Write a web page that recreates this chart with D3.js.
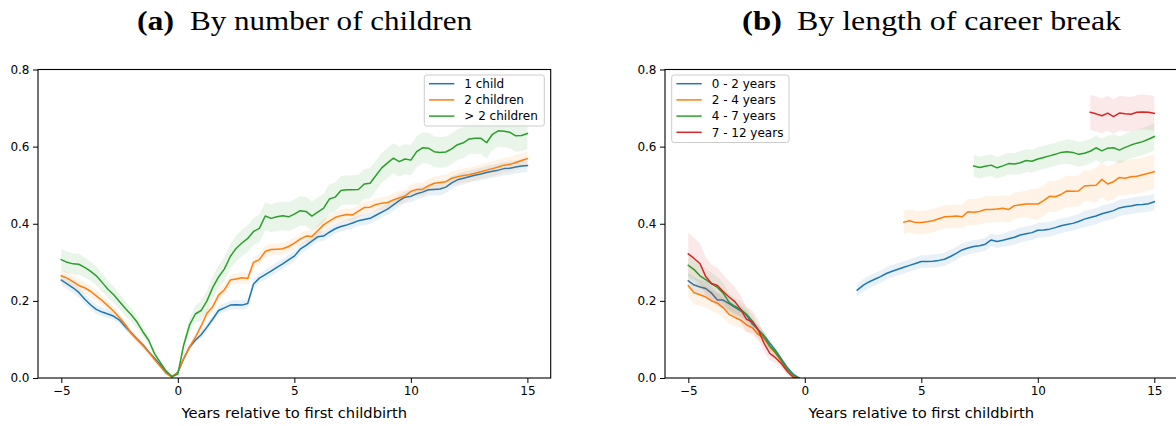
<!DOCTYPE html>
<html><head><meta charset="utf-8">
<script src="https://cdn.jsdelivr.net/npm/d3@7"></script>
<style>body{margin:0;background:#fff} svg{display:block}</style>
</head><body><svg id="c" width="1176" height="426"></svg>
<script>
// ---------- DATA ----------
const years = [-5,-4.75,-4.5,-4.25,-4,-3.75,-3.5,-3.25,-3,-2.75,-2.5,-2.25,-2,-1.75,-1.5,-1.25,-1,-0.75,-0.5,-0.25,
  0,0.25,0.5,0.75,1,1.25,1.5,1.75,2,2.25,2.5,2.75,3,3.25,3.5,3.75,4,4.25,4.5,4.75,5,
  5.25,5.5,5.75,6,6.25,6.5,6.75,7,7.25,7.5,7.75,8,8.25,8.5,8.75,9,9.25,9.5,9.75,10,
  10.25,10.5,10.75,11,11.25,11.5,11.75,12,12.25,12.5,12.75,13,13.25,13.5,13.75,14,14.25,14.5,14.75,15];
const xTicks = [-5,0,5,10,15];
const yTicks = [0,0.2,0.4,0.6,0.8];

// Panel (a): by number of children
const labelsA = ["1 child","2 children","> 2 children"];
const oneChild = [0.254,0.244,0.234,0.222,0.205,0.190,0.178,0.171,0.166,0.160,0.150,0.133,0.117,0.101,0.086,0.068,0.051,0.034,0.013,0.003,
  0.015,0.050,0.080,0.098,0.112,0.132,0.153,0.175,0.182,0.189,0.190,0.189,0.193,0.244,0.259,0.268,0.277,0.287,0.296,0.306,0.316,
  0.334,0.344,0.355,0.366,0.368,0.378,0.387,0.393,0.397,0.402,0.408,0.411,0.414,0.422,0.430,0.438,0.449,0.460,0.469,0.471,
  0.478,0.482,0.488,0.489,0.490,0.495,0.506,0.514,0.518,0.522,0.526,0.529,0.533,0.536,0.539,0.543,0.544,0.547,0.550,0.551];
const twoChildren = [0.265,0.259,0.250,0.240,0.234,0.225,0.213,0.201,0.187,0.173,0.156,0.138,0.116,0.100,0.084,0.067,0.048,0.030,0.012,0.002,
  0.015,0.050,0.080,0.105,0.135,0.168,0.185,0.215,0.229,0.254,0.257,0.260,0.258,0.300,0.307,0.328,0.333,0.334,0.335,0.341,0.350,
  0.360,0.368,0.367,0.382,0.397,0.407,0.416,0.421,0.424,0.423,0.433,0.442,0.443,0.450,0.453,0.455,0.462,0.467,0.472,0.484,
  0.489,0.489,0.498,0.505,0.507,0.509,0.518,0.522,0.525,0.527,0.531,0.535,0.539,0.543,0.547,0.552,0.554,0.559,0.564,0.569];
const moreChildren = [0.307,0.300,0.296,0.295,0.287,0.277,0.265,0.248,0.230,0.216,0.198,0.180,0.164,0.145,0.120,0.098,0.063,0.040,0.018,0.004,
  0.010,0.085,0.137,0.166,0.175,0.200,0.235,0.262,0.283,0.315,0.336,0.350,0.362,0.380,0.388,0.420,0.414,0.418,0.421,0.418,0.425,
  0.434,0.432,0.420,0.430,0.440,0.464,0.469,0.486,0.488,0.488,0.489,0.503,0.505,0.525,0.545,0.558,0.570,0.561,0.568,0.565,
  0.587,0.597,0.596,0.587,0.585,0.586,0.594,0.605,0.610,0.620,0.622,0.622,0.610,0.632,0.641,0.640,0.637,0.628,0.629,0.634];
// 95% CI half-widths
const ciOneChild = [0.014,0.014,0.013,0.013,0.013,0.012,0.012,0.011,0.011,0.010,0.010,0.009,0.008,0.008,0.007,0.006,0.005,0.004,0.003,0.002,
  0.002,0.005,0.007,0.008,0.009,0.010,0.010,0.011,0.011,0.011,0.012,0.012,0.012,0.012,0.012,0.013,0.013,0.013,0.013,0.013,0.013,
  0.013,0.013,0.013,0.013,0.013,0.013,0.013,0.013,0.014,0.014,0.014,0.014,0.014,0.014,0.014,0.014,0.015,0.015,0.015,0.015,
  0.015,0.015,0.015,0.015,0.016,0.016,0.016,0.016,0.016,0.016,0.016,0.016,0.017,0.017,0.017,0.017,0.017,0.017,0.017,0.017];
const ciTwoChildren = [0.016,0.016,0.015,0.015,0.015,0.014,0.014,0.013,0.013,0.012,0.011,0.010,0.009,0.009,0.008,0.007,0.006,0.004,0.003,0.002,
  0.002,0.006,0.008,0.010,0.011,0.012,0.012,0.013,0.013,0.013,0.014,0.014,0.014,0.014,0.014,0.015,0.015,0.015,0.015,0.015,0.015,
  0.015,0.015,0.015,0.015,0.015,0.015,0.015,0.015,0.016,0.016,0.016,0.016,0.016,0.016,0.016,0.016,0.017,0.017,0.017,0.017,
  0.017,0.017,0.017,0.017,0.018,0.018,0.018,0.018,0.018,0.018,0.018,0.018,0.019,0.019,0.019,0.019,0.019,0.019,0.019,0.019];
const ciMoreChildren = [0.028,0.028,0.027,0.027,0.026,0.025,0.024,0.023,0.022,0.021,0.020,0.019,0.017,0.015,0.013,0.011,0.009,0.007,0.005,0.003,
  0.004,0.012,0.018,0.022,0.025,0.027,0.029,0.030,0.031,0.032,0.033,0.034,0.035,0.035,0.036,0.036,0.036,0.037,0.037,0.037,0.038,
  0.038,0.038,0.038,0.038,0.038,0.038,0.038,0.038,0.038,0.038,0.039,0.039,0.039,0.039,0.039,0.039,0.039,0.039,0.039,0.039,
  0.040,0.040,0.040,0.040,0.040,0.040,0.040,0.040,0.040,0.040,0.041,0.041,0.041,0.041,0.041,0.041,0.041,0.041,0.041,0.041];

// Panel (b): by length of career break  (pre-birth: -5 .. -0.25; post: segment until 15)
const labelsB = ["0 - 2 years","2 - 4 years","4 - 7 years","7 - 12 years"];
const postStartB = [2.25, 4.25, 7.25, 12.25];
const breakShortPre = [0.252,0.241,0.236,0.232,0.220,0.202,0.202,0.193,0.183,0.174,0.163,0.140,0.125,0.110,0.090,0.071,0.049,0.027,0.010,0.000];
const breakMidPre   = [0.239,0.221,0.216,0.210,0.200,0.194,0.182,0.165,0.157,0.150,0.138,0.130,0.113,0.103,0.081,0.064,0.042,0.022,0.006,0.000];
const breakLongPre  = [0.292,0.281,0.265,0.255,0.244,0.235,0.220,0.196,0.186,0.178,0.165,0.148,0.125,0.107,0.083,0.066,0.045,0.024,0.008,0.000];
const breakVLongPre = [0.322,0.310,0.297,0.263,0.245,0.240,0.224,0.210,0.198,0.178,0.152,0.146,0.125,0.090,0.064,0.052,0.037,0.017,0.002,0.000];
const breakShortPost = [0.228,0.240,0.249,0.256,0.263,0.271,0.277,0.282,0.287,0.292,0.297,0.302,0.302,0.303,0.305,0.308,
  0.315,0.323,0.332,0.337,0.341,0.343,0.347,0.358,0.354,0.357,0.361,0.365,0.371,0.374,0.377,0.383,
  0.384,0.386,0.390,0.395,0.398,0.401,0.406,0.412,0.416,0.420,0.426,0.430,0.434,0.441,0.444,0.446,0.449,0.450,0.452,0.457];
const breakMidPost = [0.404,0.408,0.403,0.403,0.405,0.408,0.413,0.418,0.419,0.420,0.418,0.431,0.430,0.432,0.437,0.437,
  0.438,0.440,0.437,0.447,0.449,0.451,0.451,0.451,0.460,0.471,0.470,0.476,0.485,0.484,0.485,0.498,
  0.499,0.500,0.515,0.503,0.509,0.520,0.518,0.522,0.523,0.527,0.531,0.535];
const breakLongPost = [0.550,0.546,0.549,0.552,0.545,0.550,0.556,0.555,0.558,0.564,0.562,0.568,0.572,0.576,0.580,0.585,
  0.587,0.585,0.580,0.583,0.588,0.597,0.589,0.596,0.597,0.591,0.598,0.604,0.609,0.613,0.619,0.626];
const breakVLongPost = [0.689,0.685,0.680,0.687,0.678,0.687,0.685,0.684,0.689,0.690,0.689,0.686];
// CI half-widths
const ciShortPre = [0.020,0.020,0.019,0.019,0.018,0.018,0.017,0.016,0.015,0.014,0.013,0.012,0.011,0.010,0.009,0.007,0.006,0.004,0.003,0.001];
const ciMidPre   = [0.030,0.030,0.029,0.028,0.027,0.026,0.025,0.024,0.022,0.021,0.019,0.017,0.015,0.013,0.011,0.009,0.007,0.005,0.003,0.001];
const ciLongPre  = [0.032,0.031,0.030,0.029,0.028,0.027,0.026,0.024,0.022,0.021,0.019,0.017,0.015,0.013,0.011,0.009,0.007,0.005,0.003,0.001];
const ciVLongPre = [0.055,0.054,0.052,0.050,0.048,0.046,0.044,0.041,0.038,0.035,0.032,0.029,0.026,0.022,0.018,0.015,0.011,0.008,0.004,0.001];
const ciShortPost = [0.016,0.016,0.016,0.016,0.016,0.016,0.016,0.016,0.016,0.016,0.016,0.016,0.016,
  0.017,0.017,0.017,0.017,0.017,0.017,0.017,0.017,0.017,0.017,0.017,0.017,0.017,
  0.019,0.019,0.019,0.019,0.019,0.019,0.019,0.019,0.019,0.019,0.019,0.019,0.019,
  0.021,0.021,0.021,0.021,0.021,0.021,0.021,0.021,0.021,0.021,0.021,0.021,0.021];
const ciMidPost = [0.030,0.030,0.030,0.030,0.030,0.030,0.030,0.030,0.030,0.030,0.030,
  0.034,0.034,0.034,0.034,0.034,0.034,0.034,0.034,0.034,0.034,0.034,
  0.040,0.040,0.040,0.040,0.040,0.040,0.040,0.040,0.040,0.040,0.040,
  0.045,0.045,0.045,0.045,0.045,0.045,0.045,0.045,0.045,0.045,0.045];
const ciLongPost = [0.028,0.028,0.028,0.028,0.028,0.028,0.028,0.028,0.030,0.030,0.030,0.030,0.030,0.030,0.030,0.030,
  0.032,0.032,0.032,0.032,0.032,0.032,0.032,0.032,0.035,0.035,0.035,0.035,0.035,0.035,0.035,0.035];
const ciVLongPost = [0.045,0.045,0.045,0.045,0.045,0.045,0.045,0.045,0.045,0.045,0.045,0.045];

const colors = ["#1f77b4","#ff7f0e","#2ca02c","#d62728"];

// ---------- DRAW ----------
const svg = d3.select("#c");
const FONT = "'DejaVu Sans', sans-serif";
const plotTop = 69.5, plotBottom = 378;

function mk(xs, ys, cis){ return xs.map((t,i)=>({t, v:ys[i], ci:cis[i]})); }

const preYears = years.filter(t => t < 0);
const seriesA = [
  {color:colors[0], segs:[mk(years, oneChild, ciOneChild)]},
  {color:colors[1], segs:[mk(years, twoChildren, ciTwoChildren)]},
  {color:colors[2], segs:[mk(years, moreChildren, ciMoreChildren)]}
];
const preB = [breakShortPre, breakMidPre, breakLongPre, breakVLongPre];
const preCiB = [ciShortPre, ciMidPre, ciLongPre, ciVLongPre];
const postB = [breakShortPost, breakMidPost, breakLongPost, breakVLongPost];
const postCiB = [ciShortPost, ciMidPost, ciLongPost, ciVLongPost];
const seriesB = postB.map((p,i)=>({
  color:colors[i],
  segs:[mk(preYears, preB[i], preCiB[i]), mk(years.filter(t=>t>=postStartB[i]), p, postCiB[i])]
}));

function panel(cfg){
  const x = d3.scaleLinear().domain([-6,16]).range([cfg.left, cfg.right]);
  const y = d3.scaleLinear().domain([0,0.8]).range([plotBottom, plotTop]);
  const g = svg.append("g");
  const clipId = "clip"+cfg.id;
  svg.append("clipPath").attr("id",clipId).append("rect")
    .attr("x",cfg.left).attr("y",plotTop).attr("width",cfg.right-cfg.left).attr("height",plotBottom-plotTop);
  const pg = g.append("g").attr("clip-path",`url(#${clipId})`);
  const area = d3.area().x(d=>x(d.t)).y0(d=>y(d.v-d.ci)).y1(d=>y(d.v+d.ci));
  const line = d3.line().x(d=>x(d.t)).y(d=>y(d.v));
  cfg.series.forEach(s=>{
    s.segs.forEach(seg=>{
      pg.append("path").attr("d",line(seg)).attr("fill","none").attr("stroke",s.color)
        .attr("stroke-width",1.5).attr("stroke-linejoin","round").attr("stroke-linecap","square");
      pg.append("path").attr("d",area(seg)).attr("fill",s.color).attr("fill-opacity",0.1).attr("stroke","none");
    });
  });
  // axes
  const xa = g.append("g").attr("transform",`translate(0,${plotBottom})`)
    .call(d3.axisBottom(x).tickValues(xTicks).tickSize(5).tickPadding(3.5));
  const ya = g.append("g").attr("transform",`translate(${cfg.left},0)`)
    .call(d3.axisLeft(y).tickValues(yTicks).tickFormat(d3.format(".1f")).tickSize(5).tickPadding(3.5));
  [xa,ya].forEach(a=>{
    a.select(".domain").remove();
    a.selectAll(".tick line").attr("stroke","#000").attr("stroke-width",1);
    a.selectAll(".tick text").attr("fill","#000").style("font-family",FONT).style("font-size","12px");
  });
  // spines
  g.append("rect").attr("x",cfg.left).attr("y",plotTop).attr("width",cfg.right-cfg.left).attr("height",plotBottom-plotTop)
    .attr("fill","none").attr("stroke","#000").attr("stroke-width",1.1);
  // x label
  g.append("text").attr("x",(x(-6)+x(16))/2).attr("y",418).attr("text-anchor","middle")
    .style("font-family",FONT).style("font-size","14.7px").attr("fill","#000")
    .text("Years relative to first childbirth");
  // legend
  const L = cfg.legend;
  const lg = g.append("g");
  lg.append("rect").attr("x",L.x).attr("y",L.y).attr("width",L.w).attr("height",L.h)
    .attr("rx",2.5).attr("fill","#fff").attr("fill-opacity",0.8).attr("stroke","#cccccc").attr("stroke-width",1);
  L.labels.forEach((lab,i)=>{
    const yy = L.y + 8.7 + i*16.2;
    lg.append("line").attr("x1",L.x+4.7).attr("x2",L.x+30).attr("y1",yy).attr("y2",yy)
      .attr("stroke",colors[i]).attr("stroke-width",1.5);
    lg.append("text").attr("x",L.x+40).attr("y",yy).attr("dy","0.36em")
      .style("font-family",FONT).style("font-size","12px").attr("fill","#000").text(lab);
  });
  // title
  const T = cfg.title;
  svg.append("text").attr("x",T.x1).attr("y",30).attr("textLength",T.w1).attr("lengthAdjust","spacingAndGlyphs")
    .style("font-family","'Liberation Serif', 'DejaVu Serif', serif").style("font-size","27px").style("font-weight","bold")
    .attr("fill","#000").text(T.bold);
  svg.append("text").attr("x",T.x2).attr("y",30).attr("textLength",T.w2).attr("lengthAdjust","spacingAndGlyphs")
    .style("font-family","'Liberation Serif', 'DejaVu Serif', serif").style("font-size","27px")
    .attr("fill","#000").text(T.text);
}

panel({id:"a", left:38, right:550.7, series:seriesA,
  legend:{x:424.3, y:75, w:120, h:51, labels:labelsA},
  title:{bold:"(a)", x1:137, w1:37, text:"By number of children", x2:190, w2:282}});
panel({id:"b", left:665, right:1177.6, series:seriesB,
  legend:{x:671.7, y:75, w:117.3, h:67.5, labels:labelsB},
  title:{bold:"(b)", x1:742, w1:40, text:"By length of career break", x2:797, w2:324}});
</script></body></html>
